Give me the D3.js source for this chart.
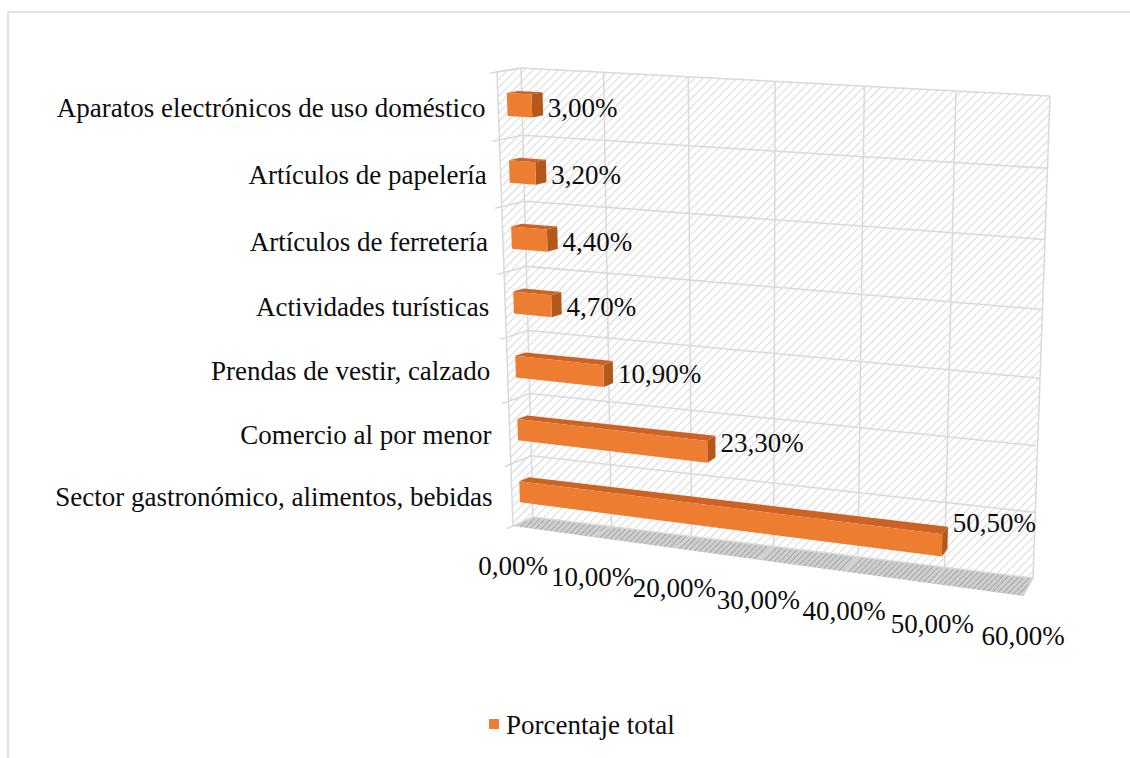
<!DOCTYPE html>
<html>
<head>
<meta charset="utf-8">
<script src="https://cdn.jsdelivr.net/npm/d3@7"></script>
<style>
  body { margin: 0; background: #fff; }
  text { font-family: "Liberation Serif", "Times New Roman", serif; fill: #0d0d0d; }
</style>
</head>
<body>
<div class="canva"></div>
<script>
// categories from top to bottom, as in the chart
var categories = [
    "Aparatos electrónicos de uso doméstico",
    "Artículos de papelería",
    "Artículos de ferretería",
    "Actividades turísticas",
    "Prendas de vestir, calzado",
    "Comercio al por menor",
    "Sector gastronómico, alimentos, bebidas"
];
var values = [0.030, 0.032, 0.044, 0.047, 0.109, 0.233, 0.505];
var xTicks = [0, 0.1, 0.2, 0.3, 0.4, 0.5, 0.6];
var seriesName = "Porcentaje total";

var es = d3.formatLocale({decimal: ",", thousands: ".", grouping: [3], currency: ["", " €"]});
var pct = es.format(".2%");

const svg = d3.select(".canva").append("svg")
              .attr("width", 1130)
              .attr("height", 758);

// outer chart border
svg.append("path")
   .attr("d", "M8,758 L8,12 L1130,12")
   .attr("fill", "none")
   .attr("stroke", "#d9d9d9")
   .attr("stroke-width", 1.5);

// hatch patterns
var defs = svg.append("defs");
var wall = defs.append("pattern").attr("id", "wallHatch")
               .attr("patternUnits", "userSpaceOnUse")
               .attr("width", 6).attr("height", 6)
               .attr("patternTransform", "rotate(45)");
wall.append("rect").attr("width", 6).attr("height", 6).attr("fill", "#fff");
wall.append("line").attr("x1", 0).attr("y1", 0).attr("x2", 0).attr("y2", 6)
    .attr("stroke", "#d6d6d6").attr("stroke-width", 1.8);
var floorP = defs.append("pattern").attr("id", "floorHatch")
               .attr("patternUnits", "userSpaceOnUse")
               .attr("width", 4).attr("height", 4)
               .attr("patternTransform", "rotate(45)");
floorP.append("rect").attr("width", 4).attr("height", 4).attr("fill", "#cfcfcf");
floorP.append("line").attr("x1", 0).attr("y1", 0).attr("x2", 0).attr("y2", 4)
      .attr("stroke", "#9c9c9c").attr("stroke-width", 1.6);

// perspective: unit square (u = value, v = height) -> quad on screen
function homography(p0, p1, p2, p3) {
    var dx1 = p1[0]-p2[0], dx2 = p3[0]-p2[0], dx3 = p0[0]-p1[0]+p2[0]-p3[0];
    var dy1 = p1[1]-p2[1], dy2 = p3[1]-p2[1], dy3 = p0[1]-p1[1]+p2[1]-p3[1];
    var den = dx1*dy2 - dy1*dx2;
    var g = (dx3*dy2 - dy3*dx2)/den;
    var h = (dx1*dy3 - dy1*dx3)/den;
    var a = p1[0]-p0[0]+g*p1[0], b = p3[0]-p0[0]+h*p3[0], c = p0[0];
    var d = p1[1]-p0[1]+g*p1[1], e = p3[1]-p0[1]+h*p3[1], f = p0[1];
    return function(u, v) {
        var w = g*u + h*v + 1;
        return [(a*u + b*v + c)/w, (d*u + e*v + f)/w];
    };
}
// back wall and front plane (bottom-left, bottom-right, top-right, top-left)
var back  = homography([533,517], [1033,578], [1050,96], [521,68]);
var front = homography([513,526], [1023,596], [1036,108], [497,72]);
function project(u, v, z) {
    var b = back(u, v), f = front(u, v);
    return [b[0] + (f[0]-b[0])*z, b[1] + (f[1]-b[1])*z];
}

var x = d3.scaleLinear().domain([0, 0.6]).range([0, 1]);
var y = d3.scaleBand().domain(categories.slice().reverse()).range([0, 1]);

var line = d3.line();
function poly(pts) { return line(pts) + "Z"; }

const plot = svg.append("g");

// side wall, back wall, floor
plot.append("path")
    .attr("d", poly([project(0,1,0), project(0,0,0), project(0,0,1), project(0,1,1)]))
    .attr("fill", "url(#wallHatch)");
plot.append("path")
    .attr("d", poly([project(0,0,0), project(1,0,0), project(1,1,0), project(0,1,0)]))
    .attr("fill", "url(#wallHatch)");
plot.append("path")
    .attr("d", poly([project(0,0,0), project(1,0,0), project(1,0,1), project(0,0,1)]))
    .attr("fill", "url(#floorHatch)");

var grid = plot.append("g")
               .attr("stroke", "#d9d9d9")
               .attr("stroke-width", 1.5)
               .attr("fill", "none");

// horizontal gridlines at band edges (back wall + side wall + tick)
var edges = y.domain().map(c => y(c)).concat([1]);
edges.forEach(function(v) {
    grid.append("path").attr("d", line([project(1,v,0), project(0,v,0), project(0,v,1.3)]));
});
// vertical gridlines (back wall + floor)
xTicks.forEach(function(t) {
    var u = x(t);
    grid.append("path").attr("d", line([project(u,1,0), project(u,0,0), project(u,0,1)]));
});
// axis edge
grid.append("path").attr("d", line([project(0,0,1), project(0,1,1), project(0,1,0)]));

// bars as 3D boxes
var zb = 0.15, zf = 0.62, hb = 0.17;
var bars = plot.selectAll(".bar")
               .data(categories.map((c, i) => ({c: c, v: values[i]})))
               .enter()
               .append("g")
               .attr("class", "bar");
bars.each(function(d) {
    var g = d3.select(this);
    var u1 = x(d.v);
    var vc = y(d.c) + y.bandwidth()/2;
    var v0 = vc - y.bandwidth()*hb, v1 = vc + y.bandwidth()*hb;
    // top face
    g.append("path")
     .attr("d", poly([project(0,v1,zb), project(u1,v1,zb), project(u1,v1,zf), project(0,v1,zf)]))
     .attr("fill", "#cc6224");
    // end face
    g.append("path")
     .attr("d", poly([project(u1,v1,zf), project(u1,v1,zb), project(u1,v0,zb), project(u1,v0,zf)]))
     .attr("fill", "#b4571b");
    // front face
    g.append("path")
     .attr("d", poly([project(0,v0,zf), project(u1,v0,zf), project(u1,v1,zf), project(0,v1,zf)]))
     .attr("fill", "#ed7d31");
});

// data labels
bars.append("text")
    .attr("x", d => project(x(d.v), y(d.c) + y.bandwidth()/2, zb)[0] + 5)
    .attr("y", d => project(x(d.v), y(d.c) + y.bandwidth()/2, 0.3)[1] + 5 - 26*x(d.v))
    .attr("dominant-baseline", "central")
    .style("font-size", "27px")
    .text(d => pct(d.v));

// category labels
plot.selectAll(".cat")
    .data(categories)
    .enter()
    .append("text")
    .attr("class", "cat")
    .attr("x", function(c) {
        var vc = y(c) + y.bandwidth()/2;
        return project(0, vc, 1)[0] - 12 - 8*(1 - vc);
    })
    .attr("y", c => project(0, y(c) + y.bandwidth()/2, 1)[1] + 2)
    .attr("text-anchor", "end")
    .attr("dominant-baseline", "central")
    .style("font-size", "27px")
    .text(c => c);

// value axis labels
plot.selectAll(".tick")
    .data(xTicks)
    .enter()
    .append("text")
    .attr("class", "tick")
    .attr("x", t => project(x(t), 0, 1)[0])
    .attr("y", t => project(x(t), 0, 1)[1] + 40)
    .attr("text-anchor", "middle")
    .attr("dominant-baseline", "central")
    .style("font-size", "27px")
    .text(t => pct(t));

// legend
var legend = svg.append("g").attr("transform", "translate(489,719)");
legend.append("rect").attr("width", 10).attr("height", 10).attr("fill", "#ed7d31");
legend.append("text").attr("x", 17).attr("y", 6)
      .attr("dominant-baseline", "central")
      .style("font-size", "27px")
      .text(seriesName);
</script>
</body>
</html>
